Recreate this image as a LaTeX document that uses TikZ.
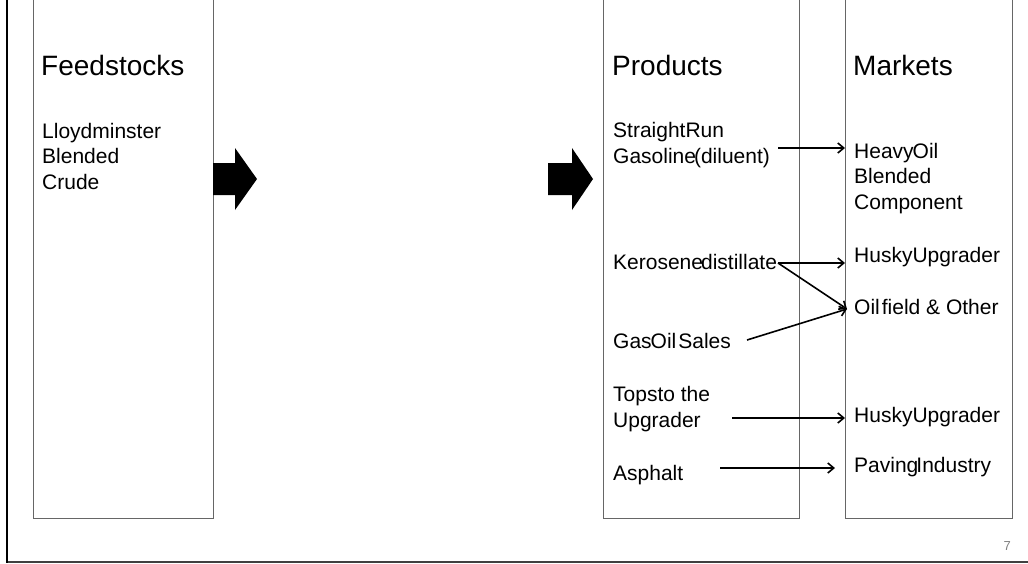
\documentclass[tikz,border=0pt]{standalone}
\usepackage{fontspec}
\setmainfont{Liberation Sans}
\usetikzlibrary{arrows.meta,calc}
\begin{document}
\begin{tikzpicture}[x=1pt,y=-1pt,
  panel/.style={draw=black!60, line width=0.8pt, inner sep=0pt, anchor=south west, minimum height=540pt},
  head/.style={font=\fontsize{28}{33}\selectfont, anchor=base west, inner sep=0pt},
  item/.style={font=\fontsize{21}{25.5}\selectfont, align=left, anchor=base west, inner sep=1pt},
  flow/.style={line width=1.6pt, -{Straight Barb[length=6pt,width=10pt]}},
  fatarrow/.style={fill=black}]
\useasboundingbox (0,0) rectangle (1028,563);

% slide frame
\draw[black!75, line width=2pt] (7,561.5) -- (1028,561.5);
\draw[black, line width=2.5pt] (7,0) -- (7,562.5);
\node[font=\fontsize{13}{15}\selectfont, text=black!50, anchor=base east, inner sep=0pt] (pg) at (1011,550) {7};

% three columns
\node[panel, minimum width=180pt] (fs) at (33,519) {};
\node[panel, minimum width=196pt] (pr) at (603,519) {};
\node[panel, minimum width=167pt] (mk) at (845,519) {};

% block arrows between the columns
\fill[fatarrow] (213,163) -- (235,163) -- (235,148) -- (257,179) -- (235,210) -- (235,195) -- (213,195) -- cycle;
\fill[fatarrow] (548,163) -- (572,163) -- (572,148) -- (593,179) -- (572,210) -- (572,195) -- (548,195) -- cycle;

% headings
\node[head] (hfs) at (41,75) {Feedstocks};
\node[head] (hpr) at (612,75) {Products};
\node[head] (hmk) at (853,75) {Markets};

% feedstock (multi-line items are placed by the baseline of their last line)
\node[item] (crude) at (41,189) {Lloydminster\\Blended\\Crude};

% products
\node[item] (srg) at (612,163) {StraightRun\\Gasoline\kern-2pt(diluent)};
\node[item] (ker) at (612,269) {Kerosene\kern-2pt distillate};
\node[item] (gas) at (612,348) {Gas\kern-1pt Oil\kern2pt Sales};
\node[item] (tops) at (612,427) {Topsto the\\Upgrader};
\node[item] (asp) at (612,480) {Asphalt};

% markets
\node[item] (hob) at (853,209) {Heavy\kern-1pt Oil\\Blended\\Component};
\node[item] (hu1) at (853,262) {HuskyUpgrader};
\node[item] (ofo) at (853,314) {Oil\kern2pt field \& Other};
\node[item] (hu2) at (853,422) {HuskyUpgrader};
\node[item] (pav) at (853,472) {Paving\kern-2pt Industry};

% flows from products to markets
\coordinate (srgout) at (778,148);
\coordinate (kerout) at (778,263);
\coordinate (gasout) at (747,340);
\coordinate (topsout) at (732,418);
\coordinate (aspout) at (720,468);
\coordinate (pavin) at (835,468);
\coordinate (ofoin) at (847,309);

\draw[flow] (srgout) -- (mk.west |- srgout);
\draw[flow] (kerout) -- (mk.west |- kerout);
\draw[flow] (kerout) -- (ofoin);
\draw[flow] (gasout) -- (ofoin);
\draw[flow] (topsout) -- (mk.west |- topsout);
\draw[flow] (aspout) -- (pavin);
\end{tikzpicture}
\end{document}
